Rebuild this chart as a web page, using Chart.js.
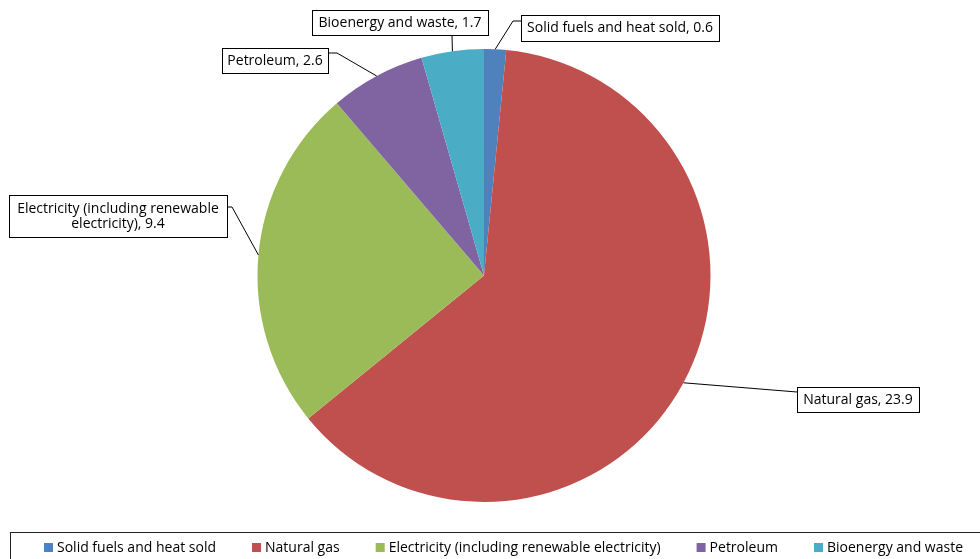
<!DOCTYPE html>
<html>
<head>
<meta charset="utf-8">
<script src="https://cdn.jsdelivr.net/npm/chart.js@4/dist/chart.umd.min.js"></script>
<style>
  html, body { margin: 0; padding: 0; background: #fff; }
</style>
</head>
<body>
<canvas id="energyPie" width="980" height="559"></canvas>
<script>
// Data
const categories = ['Solid fuels and heat sold', 'Natural gas', 'Electricity (including renewable electricity)', 'Petroleum', 'Bioenergy and waste'];
const values = [0.6, 23.9, 9.4, 2.6, 1.7];
const colors = ['#4F81BD', '#C0504D', '#9BBB59', '#8064A2', '#4BACC6'];

const FONT = '14px "Open Sans", sans-serif';

// Callout layout: box rect, text lines and the elbow points from box to slice
const callouts = [
  { box: [521, 15, 198, 26], lines: ['Solid fuels and heat sold, 0.6'], path: [[521, 21], [513, 21]] },
  { box: [797, 387, 122, 25], lines: ['Natural gas, 23.9'], path: [[797, 392]] },
  { box: [9, 195, 218, 42], lines: ['Electricity (including renewable', 'electricity), 9.4'], path: [[227, 207], [232, 207]] },
  { box: [222, 48, 106, 25], lines: ['Petroleum, 2.6'], path: [[328, 53], [337, 53]] },
  { box: [312, 10, 176, 25], lines: ['Bioenergy and waste, 1.7'], path: [[452, 35]] }
];

const calloutPlugin = {
  id: 'callouts',
  afterDraw(chart) {
    const ctx = chart.ctx;
    const meta = chart.getDatasetMeta(0);
    ctx.save();
    ctx.font = FONT;
    ctx.lineWidth = 1;
    ctx.strokeStyle = '#000';

    // leader lines
    meta.data.forEach((arc, i) => {
      const mid = (arc.startAngle + arc.endAngle) / 2;
      const ax = arc.x + Math.cos(mid) * arc.outerRadius;
      const ay = arc.y + Math.sin(mid) * arc.outerRadius;
      const pts = callouts[i].path.concat([[ax, ay]]);
      ctx.beginPath();
      ctx.moveTo(pts[0][0], pts[0][1]);
      for (let k = 1; k < pts.length; k++) ctx.lineTo(pts[k][0], pts[k][1]);
      ctx.stroke();
    });

    // boxes with text
    callouts.forEach((c) => {
      const [x, y, w, h] = c.box;
      ctx.fillStyle = '#fff';
      ctx.fillRect(x, y, w, h);
      ctx.strokeRect(x + 0.5, y + 0.5, w, h);
      ctx.fillStyle = '#000';
      ctx.textAlign = 'center';
      ctx.textBaseline = 'middle';
      const lh = 15;
      const top = y + h / 2 - (c.lines.length - 1) * lh / 2;
      c.lines.forEach((t, k) => ctx.fillText(t, x + w / 2, top + k * lh + 0.5));
    });

    // legend box and items
    ctx.strokeStyle = '#222';
    ctx.strokeRect(10.5, 532.5, 990, 40);
    const startX = 44, endX = 963, marker = 9, textGap = 4;
    const widths = categories.map(t => ctx.measureText(t).width);
    const used = widths.reduce((s, w) => s + w + marker + textGap, 0);
    const gap = (endX - startX - used) / (categories.length - 1);
    let lx = startX;
    ctx.textAlign = 'left';
    categories.forEach((t, i) => {
      ctx.fillStyle = colors[i];
      ctx.fillRect(lx, 543, marker, marker);
      ctx.fillStyle = '#000';
      ctx.fillText(t, lx + marker + textGap, 548);
      lx += marker + textGap + widths[i] + gap;
    });
    ctx.restore();
  }
};

new Chart(document.getElementById('energyPie'), {
  type: 'pie',
  data: {
    labels: categories,
    datasets: [{
      data: values,
      backgroundColor: colors,
      borderWidth: 0
    }]
  },
  options: {
    responsive: false,
    devicePixelRatio: 1,
    animation: false,
    layout: { padding: { top: 49, bottom: 57, left: 0, right: 12 } },
    plugins: {
      legend: { display: false },
      tooltip: { enabled: false }
    }
  },
  plugins: [calloutPlugin]
});
</script>
</body>
</html>
